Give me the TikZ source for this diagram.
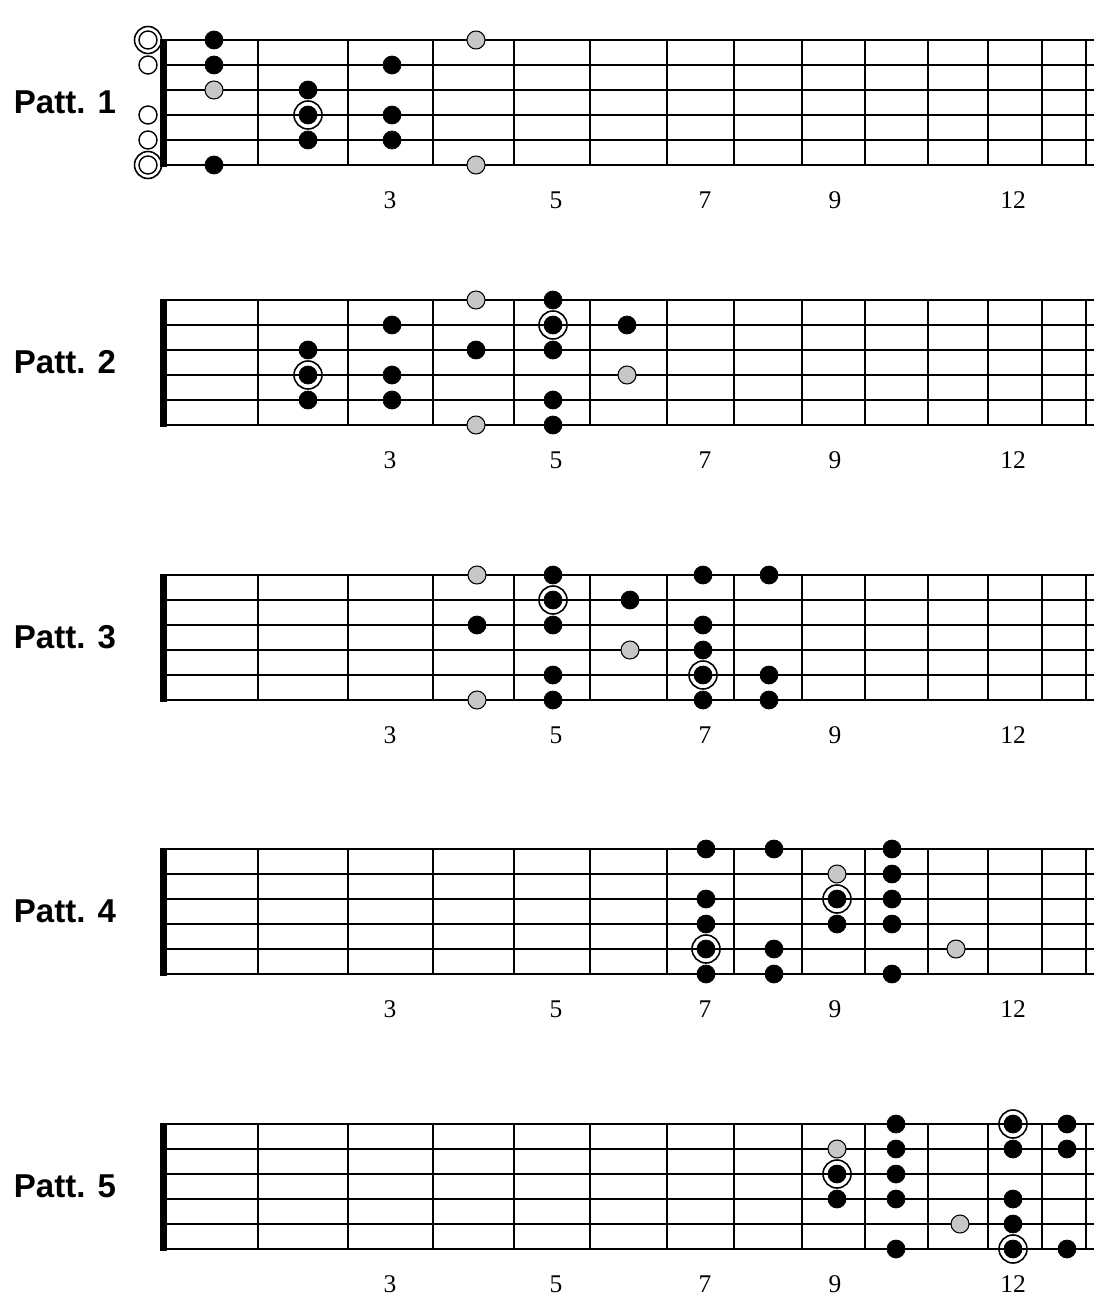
\documentclass[tikz,border=0pt]{standalone}
\usepackage{fontspec}
\setmainfont{Liberation Serif}
\setsansfont{Liberation Sans}
\usepackage{tikz}
\tikzset{
	string/.style={line width=1.1pt},
	fret/.style={line width=1.6pt},
	patt/.style={font=\sffamily\bfseries\fontsize{18.8}{22}\selectfont},
	fretnum/.style={font=\fontsize{14.5}{17}\selectfont},
	scaletone/.style={fill=black},
	passtone/.style={fill=black!22, line width=0.6pt},
	openstr/.style={fill=white, line width=0.8pt},
	rootring/.style={line width=0.9pt}
}
\def\fingerdot(#1,#2){\draw[scaletone] (#1, #2) circle (0.18);}
\def\passdot(#1,#2){\draw[passtone] (#1, #2) circle (0.18);}
\def\rootdot(#1,#2){\draw[scaletone] (#1, #2) circle (0.18); \draw[rootring] (#1, #2) circle (0.28);}
\def\opendot(#1,#2){\draw[openstr] (#1, #2) circle (0.18);}
\def\openroot(#1,#2){\draw[openstr] (#1, #2) circle (0.18); \draw[rootring] (#1, #2) circle (0.27);}
\def\fretboard(#1){%
	\node[patt] (patt#1) at (1.3, -1.25) {Patt. #1};
	\foreach \y in {0,-0.5,...,-2.5} \draw[string] (3.26, \y) -- (21.88, \y);
	\foreach \x in {5.16, 6.96, 8.66, 10.28, 11.80, 13.34, 14.68, 16.04, 17.30, 18.56, 19.76, 20.84, 21.72} \draw[fret] (\x, 0) -- (\x, -2.5);
	\draw[fill=black] (3.2, 0.02) rectangle (3.32, -2.52);
	\foreach \n/\x in {3/7.8, 5/11.12, 7/14.1, 9/16.7, 12/20.26} \node[fretnum] (p#1f\n) at (\x, -3.2) {\n};
}

\begin{document}
\begin{tikzpicture}
			\useasboundingbox (0, 0) rectangle (22.12, -26.3);
			%%%%% PATTERN 1 %%%%%
			\begin{scope}[yshift=-0.8cm]
				\fretboard(1)
				\openroot(2.96, 0)
				\opendot(2.96, -0.5)
				\opendot(2.96, -1.5)
				\opendot(2.96, -2)
				\openroot(2.96, -2.5)
				\fingerdot(4.28, 0)
				\fingerdot(4.28, -0.5)
				\passdot(4.28, -1)
				\fingerdot(4.28, -2.5)
				\fingerdot(6.16, -1)
				\rootdot(6.16, -1.5)
				\fingerdot(6.16, -2)
				\fingerdot(7.84, -0.5)
				\fingerdot(7.84, -1.5)
				\fingerdot(7.84, -2)
				\passdot(9.52, 0)
				\passdot(9.52, -2.5)
			\end{scope}
			
			%%%%% PATTERN 2 %%%%%
			\begin{scope}[yshift=-6.0cm]
				\fretboard(2)
				\fingerdot(6.16, -1)
				\rootdot(6.16, -1.5)
				\fingerdot(6.16, -2)
				\fingerdot(7.84, -0.5)
				\fingerdot(7.84, -1.5)
				\fingerdot(7.84, -2)
				\passdot(9.52, 0)
				\fingerdot(9.52, -1)
				\passdot(9.52, -2.5)
				\fingerdot(11.06, 0)
				\rootdot(11.06, -0.5)
				\fingerdot(11.06, -1)
				\fingerdot(11.06, -2)
				\fingerdot(11.06, -2.5)
				\fingerdot(12.54, -0.5)
				\passdot(12.54, -1.5)
			\end{scope}
			
			%%%%% PATTERN 3 %%%%%
			\begin{scope}[yshift=-11.5cm]
				\fretboard(3)
				\passdot(9.54, 0)
				\fingerdot(9.54, -1)
				\passdot(9.54, -2.5)
				\fingerdot(11.06, 0)
				\rootdot(11.06, -0.5)
				\fingerdot(11.06, -1)
				\fingerdot(11.06, -2)
				\fingerdot(11.06, -2.5)
				\fingerdot(12.6, -0.5)
				\passdot(12.6, -1.5)
				\fingerdot(14.06, 0)
				\fingerdot(14.06, -1)
				\fingerdot(14.06, -1.5)
				\rootdot(14.06, -2)
				\fingerdot(14.06, -2.5)
				\fingerdot(15.38, 0)
				\fingerdot(15.38, -2)
				\fingerdot(15.38, -2.5)
			\end{scope}
			
			%%%%% PATTERN 4 %%%%%
			\begin{scope}[yshift=-16.98cm]
				\fretboard(4)
				\fingerdot(14.12, 0)
				\fingerdot(14.12, -1)
				\fingerdot(14.12, -1.5)
				\rootdot(14.12, -2)
				\fingerdot(14.12, -2.5)
				\fingerdot(15.48, 0)
				\fingerdot(15.48, -2)
				\fingerdot(15.48, -2.5)
				\passdot(16.74, -0.5)
				\rootdot(16.74, -1)
				\fingerdot(16.74, -1.5)
				\fingerdot(17.84, 0)
				\fingerdot(17.84, -0.5)
				\fingerdot(17.84, -1)
				\fingerdot(17.84, -1.5)
				\fingerdot(17.84, -2.5)
				\passdot(19.12, -2)
			\end{scope}
			
			%%%%% PATTERN 5 %%%%%
			\begin{scope}[yshift=-22.48cm]
				\fretboard(5)
				\passdot(16.74, -0.5)
				\rootdot(16.74, -1)
				\fingerdot(16.74, -1.5)
				\fingerdot(17.92, 0)
				\fingerdot(17.92, -0.5)
				\fingerdot(17.92, -1)
				\fingerdot(17.92, -1.5)
				\fingerdot(17.92, -2.5)
				\passdot(19.2, -2)
				\rootdot(20.26, 0)
				\fingerdot(20.26, -0.5)
				\fingerdot(20.26, -1.5)
				\fingerdot(20.26, -2)
				\rootdot(20.26, -2.5)
				\fingerdot(21.34, 0)
				\fingerdot(21.34, -0.5)
				\fingerdot(21.34, -2.5)
			\end{scope}
\end{tikzpicture}
\end{document}
